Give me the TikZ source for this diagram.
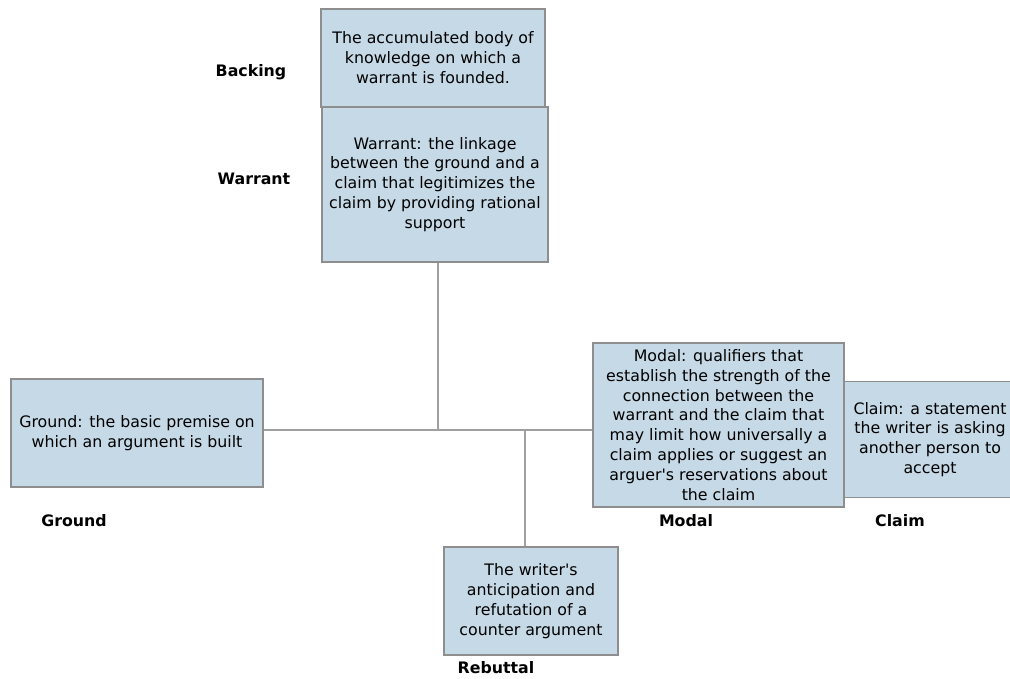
\documentclass[tikz,border=0pt]{standalone}
\usepackage{fontspec}
\setmainfont{DejaVu Sans}[Ligatures=TeXOff]
\definecolor{boxfill}{HTML}{C6D9E6}
\definecolor{boxline}{HTML}{8E8E8E}
\definecolor{wire}{HTML}{A0A0A0}
\begin{document}
\begin{tikzpicture}[x=1pt,y=-1pt,
  part/.style={draw=boxline,line width=1.3pt,fill=boxfill,inner sep=0pt,
    align=center,font=\fontsize{15.8}{19.9}\selectfont},
  tag/.style={font=\fontsize{15.8}{18}\selectfont\bfseries,inner sep=0pt},
  link/.style={draw=wire,line width=1.2pt}]
\useasboundingbox (0,0) rectangle (1010,679);
\clip (0,0) rectangle (1010,679);

% boxes of the argument model
\node[part,minimum width=224pt,minimum height=98pt] (backing) at (433,58)
  {The accumulated body of\\knowledge on which a\\warrant is founded.};
\node[part,minimum width=226pt,minimum height=155pt] (warrant) at (435,184.5)
  {Warrant: the linkage\\between the ground and a\\claim that legitimizes the\\claim by providing rational\\support};
\node[part,minimum width=252pt,minimum height=108pt] (ground) at (137,433)
  {Ground: the basic premise on\\which an argument is built};
\node[part,minimum width=251pt,minimum height=164pt] (modal) at (718.5,425)
  {Modal: qualifiers that\\establish the strength of the\\connection between the\\warrant and the claim that\\may limit how universally a\\claim applies or suggest an\\arguer's reservations about\\the claim};
\node[part,minimum width=172pt,minimum height=116pt] (claim) at (930,439.5)
  {Claim: a statement\\the writer is asking\\another person to\\accept};
\node[part,minimum width=174pt,minimum height=108pt] (rebuttal) at (531,601)
  {The writer's\\anticipation and\\refutation of a\\counter argument};

% junction points on the main line
\coordinate (j1) at (438,430);
\coordinate (j2) at (525,430);

% connectors
\draw[link] (j1 |- warrant.south) -- (j1);
\draw[link] (ground.east |- j1) -- (modal.west |- j1);
\draw[link] (j2) -- (j2 |- rebuttal.north);

% labels
\node[tag] (lbacking) at (251,72) {Backing};
\node[tag] (lwarrant) at (254,179) {Warrant};
\node[tag] (lground) at (74,521) {Ground};
\node[tag] (lmodal) at (686,521) {Modal};
\node[tag] (lclaim) at (900,521) {Claim};
\node[tag] (lrebuttal) at (496,668) {Rebuttal};
\end{tikzpicture}
\end{document}
